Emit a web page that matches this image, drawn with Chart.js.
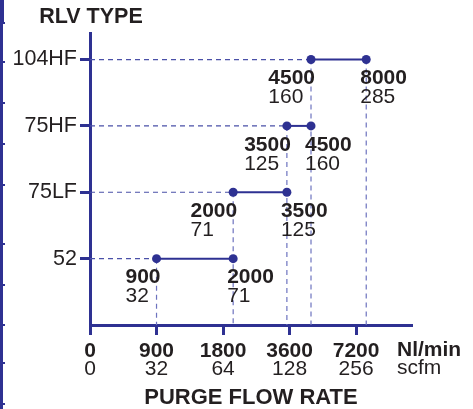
<!DOCTYPE html>
<html>
<head>
<meta charset="utf-8">
<script src="https://cdn.jsdelivr.net/npm/chart.js@4/dist/chart.umd.min.js"></script>
<style>
html,body{margin:0;padding:0;background:#fff;}
canvas{display:block;}
</style>
</head>
<body>
<canvas id="c" width="473" height="409"></canvas>
<script>
// ---- data ----
const rlvTypes   = ['52', '75LF', '75HF', '104HF'];
const flowMinNl  = [900, 2000, 3500, 4500];   // Nl/min
const flowMaxNl  = [2000, 3500, 4500, 8000];  // Nl/min
const flowMinCfm = [32, 71, 125, 160];        // scfm
const flowMaxCfm = [71, 125, 160, 285];       // scfm
const tickNl     = [0, 900, 1800, 3600, 7200];
const tickCfm    = [0, 32, 64, 128, 256];

const NAVY = '#2e3192';
const GUIDE_H = '#4a50a8';
const GUIDE_V = '#6d73bf';
const TEXT = '#231f20';
const FONT = "'Liberation Sans', Arial, sans-serif";

// axis mapping: doubling-per-step flow axis (0 sits at the origin)
function pos(v) { return v <= 0 ? 0 : 1 + Math.log2(v / 900); }
const tickPos = tickNl.map(pos);

const datasets = [];
// solid ranges
rlvTypes.forEach((t, i) => {
  datasets.push({
    type: 'line',
    label: t,
    data: [{x: pos(flowMinNl[i]), y: i + 1}, {x: pos(flowMaxNl[i]), y: i + 1}],
    borderColor: NAVY, backgroundColor: NAVY, borderWidth: 2,
    pointRadius: 4.5, pointBackgroundColor: NAVY, pointBorderWidth: 0,
    order: 0
  });
});
// horizontal guides from the axis to the range start
rlvTypes.forEach((t, i) => {
  datasets.push({
    type: 'line', label: 'h' + t,
    data: [{x: 0, y: i + 1}, {x: pos(flowMinNl[i]), y: i + 1}],
    borderColor: GUIDE_H, borderWidth: 1.2, borderDash: [5, 4],
    pointRadius: 0, order: 2
  });
});
// vertical guides from the topmost point of each value down to the axis
const topOf = {};
rlvTypes.forEach((t, i) => {
  [flowMinNl[i], flowMaxNl[i]].forEach(v => { topOf[v] = Math.max(topOf[v] || 0, i + 1); });
});
Object.keys(topOf).forEach(v => {
  datasets.push({
    type: 'line', label: 'v' + v,
    data: [{x: pos(+v), y: topOf[v]}, {x: pos(+v), y: 0}],
    borderColor: GUIDE_V, borderWidth: 1.2, borderDash: [5, 4],
    pointRadius: 0, order: 3
  });
});

const labelPlugin = {
  id: 'labels',
  afterDatasetsDraw(chart) {
    const ctx = chart.ctx;
    const xs = chart.scales.x, ys = chart.scales.y;
    ctx.save();
    ctx.fillStyle = TEXT;
    ctx.textBaseline = 'middle';
    ctx.textAlign = 'left';
    const bold = 'bold 21px ' + FONT, reg = '21px ' + FONT;
    rlvTypes.forEach((t, i) => {
      const py = ys.getPixelForValue(i + 1);
      // start label
      let px = xs.getPixelForValue(pos(flowMinNl[i]));
      ctx.font = bold;
      const w = ctx.measureText(String(flowMinNl[i])).width;
      let left = px + 4 - w;
      ctx.fillText(String(flowMinNl[i]), left, py + 19);
      ctx.font = reg;
      ctx.fillText(String(flowMinCfm[i]), left, py + 38);
      // end label
      px = xs.getPixelForValue(pos(flowMaxNl[i]));
      left = px - 6;
      ctx.font = bold;
      ctx.fillText(String(flowMaxNl[i]), left, py + 19);
      ctx.font = reg;
      ctx.fillText(String(flowMaxCfm[i]), left, py + 38);
    });
    // unit labels beside the tick rows
    ctx.font = bold;
    ctx.fillText('Nl/min', xs.right - 15, 350);
    ctx.font = reg;
    ctx.fillText('scfm', xs.right - 15, 368);
    // y axis heading
    ctx.font = 'bold 21.5px ' + FONT;
    ctx.textAlign = 'center';
    ctx.fillText('RLV TYPE', ys.right + 1, 17);
    // left page edge rule
    ctx.fillStyle = NAVY;
    ctx.fillRect(0, 0, 3, 409);
    ctx.fillRect(0, 0, 4, 22);
    [23, 62, 103, 144, 185, 244, 285, 325, 363, 404].forEach(y => ctx.fillRect(0, y - 1, 5, 2));
    ctx.restore();
  }
};

new Chart(document.getElementById('c'), {
  type: 'line',
  data: { datasets },
  options: {
    responsive: false,
    animation: false,
    layout: { padding: { left: 0, top: 33, right: 61, bottom: 0 } },
    plugins: { legend: { display: false }, tooltip: { enabled: false } },
    scales: {
      x: {
        type: 'linear', position: 'bottom', min: 0, max: 4.84,
        afterBuildTicks: s => { s.ticks = tickPos.map(v => ({ value: v })); },
        afterFit: s => { s.height = 33; },
        grid: { display: true, drawOnChartArea: false, drawTicks: true, tickLength: 10, tickWidth: 3, color: NAVY },
        border: { display: true, color: NAVY, width: 3 },
        ticks: {
          padding: 4, color: TEXT, maxRotation: 0, autoSkip: false,
          font: { family: FONT, size: 21, weight: 'bold', lineHeight: 1.2 },
          callback: (v) => { const k = tickPos.indexOf(v); return k >= 0 ? String(tickNl[k]) : ''; }
        }
      },
      x2: {
        type: 'linear', position: 'bottom', min: 0, max: 4.84,
        afterBuildTicks: s => { s.ticks = tickPos.map(v => ({ value: v })); },
        afterFit: s => { s.height = 51; },
        grid: { display: false, drawTicks: false },
        border: { display: false },
        ticks: {
          padding: 1, color: TEXT, maxRotation: 0, autoSkip: false,
          font: { family: FONT, size: 21, lineHeight: 1.0 },
          callback: (v) => { const k = tickPos.indexOf(v); return k >= 0 ? String(tickCfm[k]) : ''; }
        },
        title: {
          display: true, text: 'PURGE FLOW RATE', color: TEXT,
          font: { family: FONT, size: 22, weight: 'bold', lineHeight: 1.0 },
          padding: { top: 0, bottom: 0 }
        }
      },
      y: {
        type: 'linear', min: 0, max: 4.4,
        afterBuildTicks: s => { s.ticks = rlvTypes.map((t, i) => ({ value: i + 1 })); },
        afterFit: s => { s.width = 90; },
        grid: { display: true, drawOnChartArea: false, drawTicks: true, tickLength: 10, tickWidth: 3, color: NAVY },
        border: { display: true, color: NAVY, width: 3 },
        ticks: {
          padding: 3, color: TEXT, autoSkip: false,
          font: { family: FONT, size: 21.5 },
          callback: (v) => rlvTypes[v - 1] || ''
        }
      }
    }
  },
  plugins: [labelPlugin]
});
</script>
</body>
</html>
